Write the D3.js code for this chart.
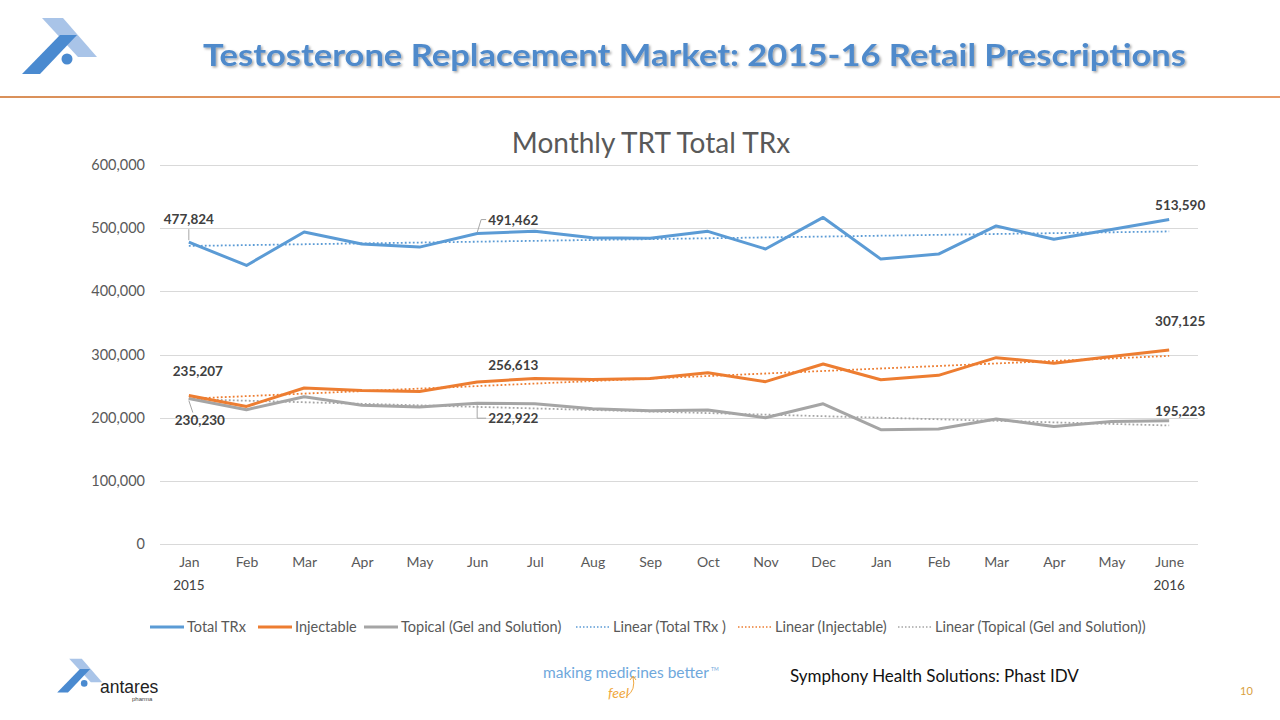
<!DOCTYPE html>
<html><head><meta charset="utf-8">
<script src="https://cdn.jsdelivr.net/npm/d3@7"></script>
<style>
html,body{margin:0;padding:0;background:#fff;}
svg{display:block;font-family:Lato,"Open Sans",sans-serif;}
</style></head>
<body>
<svg id="c" width="1280" height="720"></svg>
<script>
const months = ["Jan","Feb","Mar","Apr","May","Jun","Jul","Aug","Sep","Oct","Nov","Dec","Jan","Feb","Mar","Apr","May","June"];
const yearLabels = [{i:0,t:"2015"},{i:17,t:"2016"}];
const totalTRx  = [477824,441000,494000,475000,470000,491462,495000,485000,484000,495000,467000,517000,451000,459000,503500,482500,498000,513590];
const injectable = [235207,217800,247000,243000,241500,256613,262000,260500,262000,271000,257000,285000,260000,267000,295000,286000,297000,307125];
const topical    = [230230,212600,233000,219800,217000,222922,222000,214000,211000,212000,200000,222000,181000,182000,198000,186000,194000,195223];
const yTicks = [0,100000,200000,300000,400000,500000,600000];
const seriesNames = ["Total TRx","Injectable","Topical (Gel and Solution)"];
const trendNames = ["Linear (Total TRx )","Linear (Injectable)","Linear (Topical (Gel and Solution))"];
const colors = ["#5B9BD5","#ED7D31","#A5A5A5"];

const svg = d3.select("#c");
const fmt = d3.format(",");

// ---------- header ----------
function logo(g, s){
  g.append("polygon").attr("points",[[42,18],[63,18],[97,57],[78,57]].map(p=>p.map(v=>v*s).join(",")).join(" ")).attr("fill","#A9C4E8");
  g.append("polygon").attr("points",[[22,74],[40,74],[77,35],[60,35]].map(p=>p.map(v=>v*s).join(",")).join(" ")).attr("fill","#4A8AD0");
  g.append("circle").attr("cx",67*s).attr("cy",59*s).attr("r",5.5*s).attr("fill","#4A8AD0");
}
logo(svg.append("g"),1);
const defs = svg.append("defs");
const f = defs.append("filter").attr("id","sh").attr("x","-5%").attr("y","-20%").attr("width","110%").attr("height","150%");
f.append("feDropShadow").attr("dx",1.5).attr("dy",1.5).attr("stdDeviation",0.8).attr("flood-color","#000").attr("flood-opacity",0.35);
svg.append("text").attr("x",203).attr("y",66).attr("textLength",983).attr("lengthAdjust","spacingAndGlyphs")
  .attr("font-size",31).attr("font-weight","bold").attr("fill","#4F8ACB").attr("filter","url(#sh)")
  .text("Testosterone Replacement Market: 2015-16 Retail Prescriptions");
const lg = defs.append("linearGradient").attr("id","ol");
lg.append("stop").attr("offset","0").attr("stop-color","#D9905A");
lg.append("stop").attr("offset","0.5").attr("stop-color","#EE9A60");
lg.append("stop").attr("offset","1").attr("stop-color","#E89A66");
svg.append("rect").attr("x",0).attr("y",96).attr("width",1280).attr("height",2).attr("fill","url(#ol)");

// ---------- chart ----------
const x = d3.scalePoint().domain(d3.range(months.length)).range([160,1198]).padding(0.5);
const y = d3.scaleLinear().domain([0,600000]).range([544,165]);

svg.append("text").attr("x",651).attr("y",153).attr("text-anchor","middle").attr("font-size",28).attr("fill","#595959").text("Monthly TRT Total TRx");

const grid = svg.append("g");
grid.selectAll("line").data(yTicks).join("line")
  .attr("x1",160).attr("x2",1198).attr("y1",d=>Math.round(y(d))+0.5).attr("y2",d=>Math.round(y(d))+0.5)
  .attr("stroke","#D9D9D9").attr("stroke-width",1);

const yAxis = d3.axisLeft(y).tickValues(yTicks).tickFormat(fmt).tickSize(0).tickPadding(15);
const ya = svg.append("g").attr("transform","translate(160,0)").call(yAxis);
ya.select(".domain").remove();
ya.selectAll("text").attr("font-size",14.5).attr("fill","#595959").attr("font-family","Lato,sans-serif");

const xAxis = d3.axisBottom(x).tickFormat(i=>months[i]).tickSize(0).tickPadding(13);
const xa = svg.append("g").attr("transform","translate(0,544)").call(xAxis);
xa.select(".domain").remove();
xa.selectAll("text").attr("font-size",14).attr("fill","#595959").attr("font-family","Lato,sans-serif");
svg.selectAll(".yr").data(yearLabels).join("text").attr("class","yr")
  .attr("x",d=>x(d.i)).attr("y",590).attr("text-anchor","middle").attr("font-size",13.5).attr("fill","#404040").text(d=>d.t);

const allSeries = [totalTRx, injectable, topical];
// trendlines (least-squares, as the chart's linear trendline)
function linfit(arr){
  const n=arr.length, xs=d3.range(n);
  const mx=d3.mean(xs), my=d3.mean(arr);
  const b=d3.sum(xs,(xi,i)=>(xi-mx)*(arr[i]-my))/d3.sum(xs,xi=>(xi-mx)**2);
  return xs.map(xi=>my+b*(xi-mx));
}
const line = d3.line().x((d,i)=>x(i)).y(d=>y(d));
allSeries.forEach((s,k)=>{
  svg.append("path").attr("d",line(linfit(s))).attr("fill","none").attr("stroke",colors[k])
    .attr("stroke-width",1.8).attr("stroke-dasharray","1.8,2.2");
});
[2,1,0].forEach(k=>{
  svg.append("path").attr("d",line(allSeries[k])).attr("fill","none").attr("stroke",colors[k])
    .attr("stroke-width",3).attr("stroke-linejoin","round");
});

// data labels
const labels = [
  {s:0,i:0,dx:0,dy:-18,anchor:"middle",lead:[[0,-2],[0,-13]]},
  {s:0,i:5,dx:11,dy:-9,anchor:"start",lead:[[0,-1],[4,-14],[9,-14]]},
  {s:1,i:0,dx:9,dy:-19,anchor:"middle",lead:null},
  {s:2,i:0,dx:11,dy:26,anchor:"middle",lead:[[0,2],[4,14]]},
  {s:1,i:5,dx:11,dy:-12,anchor:"start",lead:null},
  {s:2,i:5,dx:11,dy:20,anchor:"start",lead:[[0,2],[0,15],[9,15]]},
  {s:0,i:17,dx:11,dy:-10,anchor:"middle",lead:null},
  {s:1,i:17,dx:11,dy:-24,anchor:"middle",lead:null},
  {s:2,i:17,dx:11,dy:-5,anchor:"middle",lead:null}
];
labels.forEach(l=>{
  const v = allSeries[l.s][l.i], px=x(l.i), py=y(v);
  if(l.lead){
    svg.append("path").attr("d",d3.line()(l.lead.map(p=>[px+p[0],py+p[1]]))).attr("fill","none").attr("stroke","#A6A6A6").attr("stroke-width",1);
  }
  svg.append("text").attr("x",px+l.dx).attr("y",py+l.dy).attr("text-anchor",l.anchor).attr("font-size",13.5)
    .attr("font-weight","bold").attr("fill","#404040").text(fmt(v));
});

// legend
const legItems = [
  {t:seriesNames[0],c:colors[0],dash:null,x:150},
  {t:seriesNames[1],c:colors[1],dash:null,x:258},
  {t:seriesNames[2],c:colors[2],dash:null,x:364},
  {t:trendNames[0],c:colors[0],dash:"1.5,2",x:576},
  {t:trendNames[1],c:colors[1],dash:"1.5,2",x:738},
  {t:trendNames[2],c:colors[2],dash:"1.5,2",x:898}
];
const leg = svg.append("g");
legItems.forEach(d=>{
  leg.append("line").attr("x1",d.x).attr("x2",d.x+34).attr("y1",627).attr("y2",627).attr("stroke",d.c)
    .attr("stroke-width",d.dash?1.3:3).attr("stroke-dasharray",d.dash);
  leg.append("text").attr("x",d.x+37).attr("y",632).attr("font-size",14.5).attr("fill","#595959").text(d.t);
});

// footer
const lb = svg.append("g").attr("transform","translate(44,648) scale(0.6)");
logo(lb,1);
svg.append("text").attr("x",100).attr("y",693).attr("font-size",17.5).attr("fill","#222").attr("font-family","Liberation Sans,Arial,sans-serif").text("antares");
svg.append("text").attr("x",132).attr("y",701).attr("font-size",6).attr("fill","#444").attr("font-family","Liberation Sans,Arial,sans-serif").text("pharma");
svg.append("text").attr("x",543).attr("y",678).attr("font-size",15.5).attr("fill","#6FA8DC").text("making medicines better");
svg.append("text").attr("x",711).attr("y",671).attr("font-size",5).attr("fill","#6FA8DC").text("TM");
svg.append("text").attr("x",608).attr("y",698).attr("font-size",14).attr("font-style","italic").attr("fill","#F0A840").text("feel");
svg.append("path").attr("d","M627,696 Q636,690 633,677 M630,680 L633,676 L636,680").attr("fill","none").attr("stroke","#F0A840").attr("stroke-width",1);
svg.append("text").attr("x",790).attr("y",682).attr("font-size",17).attr("fill","#111").text("Symphony Health Solutions: Phast IDV");
svg.append("text").attr("x",1240).attr("y",695).attr("font-size",11).attr("fill","#D9A040").text("10");
</script>
</body></html>
